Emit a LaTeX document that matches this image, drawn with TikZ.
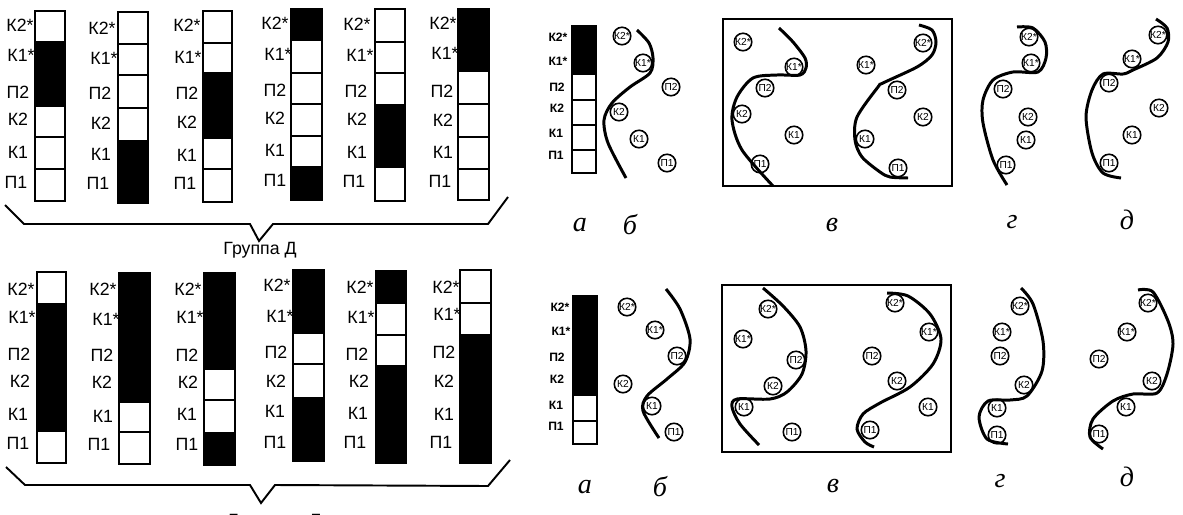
\documentclass[tikz,border=0pt]{standalone}
\usepackage{fontspec}
\setmainfont{Liberation Sans}
\newfontfamily\pismo{Liberation Serif}

\begin{document}
\begin{tikzpicture}[x=0.02cm,y=0.02cm]
\tikzstyle{every node}+=[inner sep=0pt]
\tikzstyle{cell}=[black, line width=1.1pt]
\tikzstyle{wave}=[black, line width=1.7pt]
\tikzstyle{frm}=[black, line width=1.2pt]
\tikzstyle{lab}=[font=\fontsize{10.1}{11}\selectfont]
\tikzstyle{labs}=[font=\bfseries\fontsize{6.9}{8}\selectfont]
\tikzstyle{zone}=[draw=black, circle, line width=0.9pt, minimum size=0.35cm, font=\fontsize{5.8}{6}\selectfont]
\tikzstyle{sub}=[font=\pismo\itshape\fontsize{16}{18}\selectfont]
\useasboundingbox (0,0) rectangle (1183,-514);
% top columns
\fill [black] (35,-41) rectangle (65,-107);
\draw [cell] (35,-11) rectangle (65,-201);
\draw [cell] (35,-137) -- (65,-137);
\draw [cell] (35,-169) -- (65,-169);
\fill [black] (118,-140) rectangle (148,-203);
\draw [cell] (118,-12) rectangle (148,-203);
\draw [cell] (118,-44) -- (148,-44);
\draw [cell] (118,-75) -- (148,-75);
\draw [cell] (118,-108) -- (148,-108);
\fill [black] (203,-72) rectangle (232,-139);
\draw [cell] (203,-11) rectangle (232,-202);
\draw [cell] (203,-43) -- (232,-43);
\draw [cell] (203,-169) -- (232,-169);
\fill [black] (291,-9) rectangle (322,-41);
\fill [black] (291,-166) rectangle (322,-200);
\draw [cell] (291,-9) rectangle (322,-200);
\draw [cell] (291,-73) -- (322,-73);
\draw [cell] (291,-104) -- (322,-104);
\draw [cell] (291,-136) -- (322,-136);
\fill [black] (375,-104) rectangle (405,-168);
\draw [cell] (375,-9) rectangle (405,-201);
\draw [cell] (375,-42) -- (405,-42);
\draw [cell] (375,-73) -- (405,-73);
\fill [black] (458,-9) rectangle (489,-72);
\draw [cell] (458,-9) rectangle (489,-200);
\draw [cell] (458,-104) -- (489,-104);
\draw [cell] (458,-137) -- (489,-137);
\draw [cell] (458,-169) -- (489,-169);
% bottom columns
\fill [black] (37,-303) rectangle (66,-432);
\draw [cell] (37,-272) rectangle (66,-463);
\fill [black] (119,-273) rectangle (150,-403);
\draw [cell] (119,-273) rectangle (150,-464);
\draw [cell] (119,-432) -- (150,-432);
\fill [black] (204,-273) rectangle (235,-370);
\fill [black] (204,-432) rectangle (235,-465);
\draw [cell] (204,-273) rectangle (235,-465);
\draw [cell] (204,-400) -- (235,-400);
\fill [black] (293,-270) rectangle (324,-334);
\fill [black] (293,-397) rectangle (324,-461);
\draw [cell] (293,-270) rectangle (324,-461);
\draw [cell] (293,-364) -- (324,-364);
\fill [black] (376,-271) rectangle (406,-304);
\fill [black] (376,-365) rectangle (406,-463);
\draw [cell] (376,-271) rectangle (406,-463);
\draw [cell] (376,-335) -- (406,-335);
\fill [black] (460,-334) rectangle (491,-463);
\draw [cell] (460,-270) rectangle (491,-463);
\draw [cell] (460,-303) -- (491,-303);
% column labels
\node (tak) [lab] at (20,-25) {К2*};
\node (tal) [lab] at (21,-55) {К1*};
\node (tam) [lab] at (18,-92) {П2};
\node (tan) [lab] at (18,-119) {К2};
\node (tao) [lab] at (18,-152) {К1};
\node (tap) [lab] at (16,-182) {П1};
\node (tbk) [lab] at (102,-28) {К2*};
\node (tbl) [lab] at (104,-58) {К1*};
\node (tbm) [lab] at (100,-93) {П2};
\node (tbn) [lab] at (101,-123) {К2};
\node (tbo) [lab] at (101,-154) {К1};
\node (tbp) [lab] at (98,-183) {П1};
\node (tck) [lab] at (187,-25) {К2*};
\node (tcl) [lab] at (188,-57) {К1*};
\node (tcm) [lab] at (187,-93) {П2};
\node (tcn) [lab] at (187,-122) {К2};
\node (tco) [lab] at (187,-155) {К1};
\node (tcp) [lab] at (185,-183) {П1};
\node (tdk) [lab] at (275,-23) {К2*};
\node (tdl) [lab] at (278,-54) {К1*};
\node (tdm) [lab] at (275,-90) {П2};
\node (tdn) [lab] at (275,-118) {К2};
\node (tdo) [lab] at (275,-150) {К1};
\node (tdp) [lab] at (275,-180) {П1};
\node (tek) [lab] at (357,-24) {К2*};
\node (tel) [lab] at (360,-55) {К1*};
\node (tem) [lab] at (356,-91) {П2};
\node (ten) [lab] at (357,-119) {К2};
\node (teo) [lab] at (357,-152) {К1};
\node (tep) [lab] at (354,-181) {П1};
\node (tfk) [lab] at (443,-23) {К2*};
\node (tfl) [lab] at (445,-53) {К1*};
\node (tfm) [lab] at (442,-91) {П2};
\node (tfn) [lab] at (443,-120) {К2};
\node (tfo) [lab] at (443,-152) {К1};
\node (tfp) [lab] at (440,-181) {П1};
\node (bak) [lab] at (21,-289) {К2*};
\node (bal) [lab] at (22,-317) {К1*};
\node (bam) [lab] at (19,-354) {П2};
\node (ban) [lab] at (20,-381) {К2};
\node (bao) [lab] at (18,-414) {К1};
\node (bap) [lab] at (18,-443) {П1};
\node (bbk) [lab] at (103,-289) {К2*};
\node (bbl) [lab] at (106,-319) {К1*};
\node (bbm) [lab] at (102,-355) {П2};
\node (bbn) [lab] at (102,-382) {К2};
\node (bbo) [lab] at (103,-416) {К1};
\node (bbp) [lab] at (99,-444) {П1};
\node (bck) [lab] at (188,-289) {К2*};
\node (bcl) [lab] at (190,-317) {К1*};
\node (bcm) [lab] at (187,-355) {П2};
\node (bcn) [lab] at (188,-382) {К2};
\node (bco) [lab] at (187,-414) {К1};
\node (bcp) [lab] at (187,-444) {П1};
\node (bdk) [lab] at (277,-285) {К2*};
\node (bdl) [lab] at (280,-316) {К1*};
\node (bdm) [lab] at (276,-352) {П2};
\node (bdn) [lab] at (276,-381) {К2};
\node (bdo) [lab] at (275,-411) {К1};
\node (bdp) [lab] at (275,-442) {П1};
\node (bek) [lab] at (360,-287) {К2*};
\node (bel) [lab] at (361,-317) {К1*};
\node (bem) [lab] at (357,-354) {П2};
\node (ben) [lab] at (359,-381) {К2};
\node (beo) [lab] at (358,-413) {К1};
\node (bep) [lab] at (355,-442) {П1};
\node (bfk) [lab] at (446,-287) {К2*};
\node (bfl) [lab] at (447,-314) {К1*};
\node (bfm) [lab] at (444,-352) {П2};
\node (bfn) [lab] at (444,-381) {К2};
\node (bfo) [lab] at (444,-414) {К1};
\node (bfp) [lab] at (441,-442) {П1};
% braces
\draw [cell] (5,-205) -- (24,-224) -- (250,-224) -- (259,-241) -- (273,-224) -- (488,-224) -- (508,-197);
\draw [cell] (6,-467) -- (25,-485) -- (250,-485) -- (261,-503) -- (275,-485) -- (488,-486) -- (510,-460);
\node (groupd) [lab] at (260,-250) {Группа Д};
\node (groupb) [lab, anchor=west] at (228,-522) {Группа\hspace{12pt} Б};
% bars a
\fill [black] (572,-26) rectangle (596,-75);
\draw [cell] (572,-26) rectangle (596,-173);
\draw [cell] (572,-100) -- (596,-100);
\draw [cell] (572,-125) -- (596,-125);
\draw [cell] (572,-150) -- (596,-150);
\fill [black] (573,-296) rectangle (597,-396);
\draw [cell] (573,-296) rectangle (597,-444);
\draw [cell] (573,-421) -- (597,-421);
\node (ask) [labs] at (558,-37) {К2*};
\node (asl) [labs] at (558,-61) {К1*};
\node (asm) [labs] at (557,-87) {П2};
\node (asn) [labs] at (557,-108) {К2};
\node (aso) [labs] at (556,-133) {К1};
\node (asp) [labs] at (556,-155) {П1};
\node (aik) [labs] at (560,-307) {К2*};
\node (ail) [labs] at (561,-331) {К1*};
\node (aim) [labs] at (557,-357) {П2};
\node (ain) [labs] at (557,-379) {К2};
\node (aio) [labs] at (556,-405) {К1};
\node (aip) [labs] at (556,-426) {П1};
% frames
\draw [frm] (723,-19) rectangle (952,-186);
\draw [frm] (722,-285) rectangle (951,-452);
% zones top
\node (tbzk) [zone] at (622,-36) {К2*};
\node (tbzl) [zone] at (643,-63) {К1*};
\node (tbzm) [zone] at (671,-87) {П2};
\node (tbzn) [zone] at (619,-112) {К2};
\node (tbzo) [zone] at (639,-139) {К1};
\node (tbzp) [zone] at (667,-163) {П1};
\node (tvzk) [zone] at (743,-42) {К2*};
\node (tvzl) [zone] at (794,-67) {К1*};
\node (tvzm) [zone] at (765,-88) {П2};
\node (tvzn) [zone] at (742,-114) {К2};
\node (tvzo) [zone] at (794,-135) {К1};
\node (tvzp) [zone] at (760,-164) {П1};
\node (twzk) [zone] at (923,-43) {К2*};
\node (twzl) [zone] at (866,-65) {К1*};
\node (twzm) [zone] at (897,-90) {П2};
\node (twzn) [zone] at (923,-117) {К2};
\node (twzo) [zone] at (865,-139) {К1};
\node (twzp) [zone] at (898,-168) {П1};
\node (tgzk) [zone] at (1029,-37) {К2*};
\node (tgzl) [zone] at (1031,-63) {К1*};
\node (tgzm) [zone] at (1003,-89) {П2};
\node (tgzn) [zone] at (1028,-117) {К2};
\node (tgzo) [zone] at (1026,-140) {К1};
\node (tgzp) [zone] at (1006,-165) {П1};
\node (tdzk) [zone] at (1158,-35) {К2*};
\node (tdzl) [zone] at (1132,-59) {К1*};
\node (tdzm) [zone] at (1109,-83) {П2};
\node (tdzn) [zone] at (1159,-108) {К2};
\node (tdzo) [zone] at (1132,-135) {К1};
\node (tdzp) [zone] at (1109,-163) {П1};
% zones bottom
\node (bbzk) [zone] at (627,-307) {К2*};
\node (bbzl) [zone] at (655,-330) {К1*};
\node (bbzm) [zone] at (677,-356) {П2};
\node (bbzn) [zone] at (623,-384) {К2};
\node (bbzo) [zone] at (652,-406) {К1};
\node (bbzp) [zone] at (674,-432) {П1};
\node (bvzk) [zone] at (768,-309) {К2*};
\node (bvzl) [zone] at (743,-339) {К1*};
\node (bvzm) [zone] at (796,-360) {П2};
\node (bvzn) [zone] at (773,-386) {К2};
\node (bvzo) [zone] at (744,-407) {К1};
\node (bvzp) [zone] at (792,-432) {П1};
\node (bwzk) [zone] at (895,-303) {К2*};
\node (bwzl) [zone] at (929,-332) {К1*};
\node (bwzm) [zone] at (872,-356) {П2};
\node (bwzn) [zone] at (897,-381) {К2};
\node (bwzo) [zone] at (928,-407) {К1};
\node (bwzp) [zone] at (870,-430) {П1};
\node (bgzk) [zone] at (1020,-306) {К2*};
\node (bgzl) [zone] at (1002,-332) {К1*};
\node (bgzm) [zone] at (1000,-356) {П2};
\node (bgzn) [zone] at (1024,-385) {К2};
\node (bgzo) [zone] at (997,-408) {К1};
\node (bgzp) [zone] at (997,-435) {П1};
\node (bdzk) [zone] at (1148,-303) {К2*};
\node (bdzl) [zone] at (1127,-332) {К1*};
\node (bdzm) [zone] at (1099,-359) {П2};
\node (bdzn) [zone] at (1152,-381) {К2};
\node (bdzo) [zone] at (1126,-407) {К1};
\node (bdzp) [zone] at (1099,-434) {П1};
% curves top
\draw [wave] plot [smooth] coordinates {(637,-30) (649,-43) (653,-58) (650,-73) (630,-87) (612,-103) (604,-120) (608,-143) (626,-178)};
\draw [wave] plot [smooth] coordinates {(779,-28) (793,-42) (805,-58) (806,-68) (800,-75) (777,-75) (753,-78) (737,-97) (732,-120) (742,-150) (773,-186)};
\draw [wave] plot [smooth] coordinates {(919,-25) (932,-30) (936,-42) (932,-55) (917,-67) (883,-83) (878,-87) (857,-117) (855,-140) (862,-157) (880,-172) (890,-177) (908,-178)};
\draw [wave] plot [smooth] coordinates {(1017,-27) (1033,-28) (1045,-42) (1046,-58) (1038,-72) (1013,-72) (993,-80) (983,-100) (983,-123) (993,-160) (1007,-185)};
\draw [wave] plot [smooth] coordinates {(1156,-19) (1167,-28) (1168,-42) (1157,-58) (1133,-70) (1123,-74) (1103,-74) (1092,-90) (1086,-117) (1092,-153) (1103,-173) (1121,-178)};
% curves bottom
\draw [wave] plot [smooth] coordinates {(666,-289) (680,-309) (690,-339) (685,-362) (667,-379) (647,-396) (643,-411) (659,-438)};
\draw [wave] plot [smooth] coordinates {(763,-288) (783,-306) (800,-327) (806,-351) (802,-374) (787,-392) (770,-399) (737,-399) (732,-407) (740,-424) (759,-445)};
\draw [wave] plot [smooth] coordinates {(887,-293) (908,-296) (930,-314) (941,-339) (933,-364) (910,-387) (880,-403) (863,-414) (857,-429) (865,-442) (874,-447)};
\draw [wave] plot [smooth] coordinates {(1021,-288) (1033,-304) (1043,-341) (1042,-371) (1027,-396) (1010,-400) (988,-401) (979,-417) (987,-439) (1008,-444)};
\draw [wave] plot [smooth] coordinates {(1138,-290) (1153,-292) (1168,-321) (1173,-344) (1167,-374) (1157,-393) (1133,-394) (1113,-401) (1093,-419) (1090,-437) (1103,-449)};
% sub captions
\node (capa) [sub] at (580,-225) {а};
\node (capb) [sub] at (630,-225) {б};
\node (capv) [sub] at (832,-225) {в};
\node (capg) [sub] at (1012,-222) {г};
\node (capd) [sub] at (1127,-220) {д};
\node (cupa) [sub] at (585,-487) {а};
\node (cupb) [sub] at (660,-487) {б};
\node (cupv) [sub] at (833,-486) {в};
\node (cupg) [sub] at (1000,-481) {г};
\node (cupd) [sub] at (1127,-477) {д};
\end{tikzpicture}
\end{document}
